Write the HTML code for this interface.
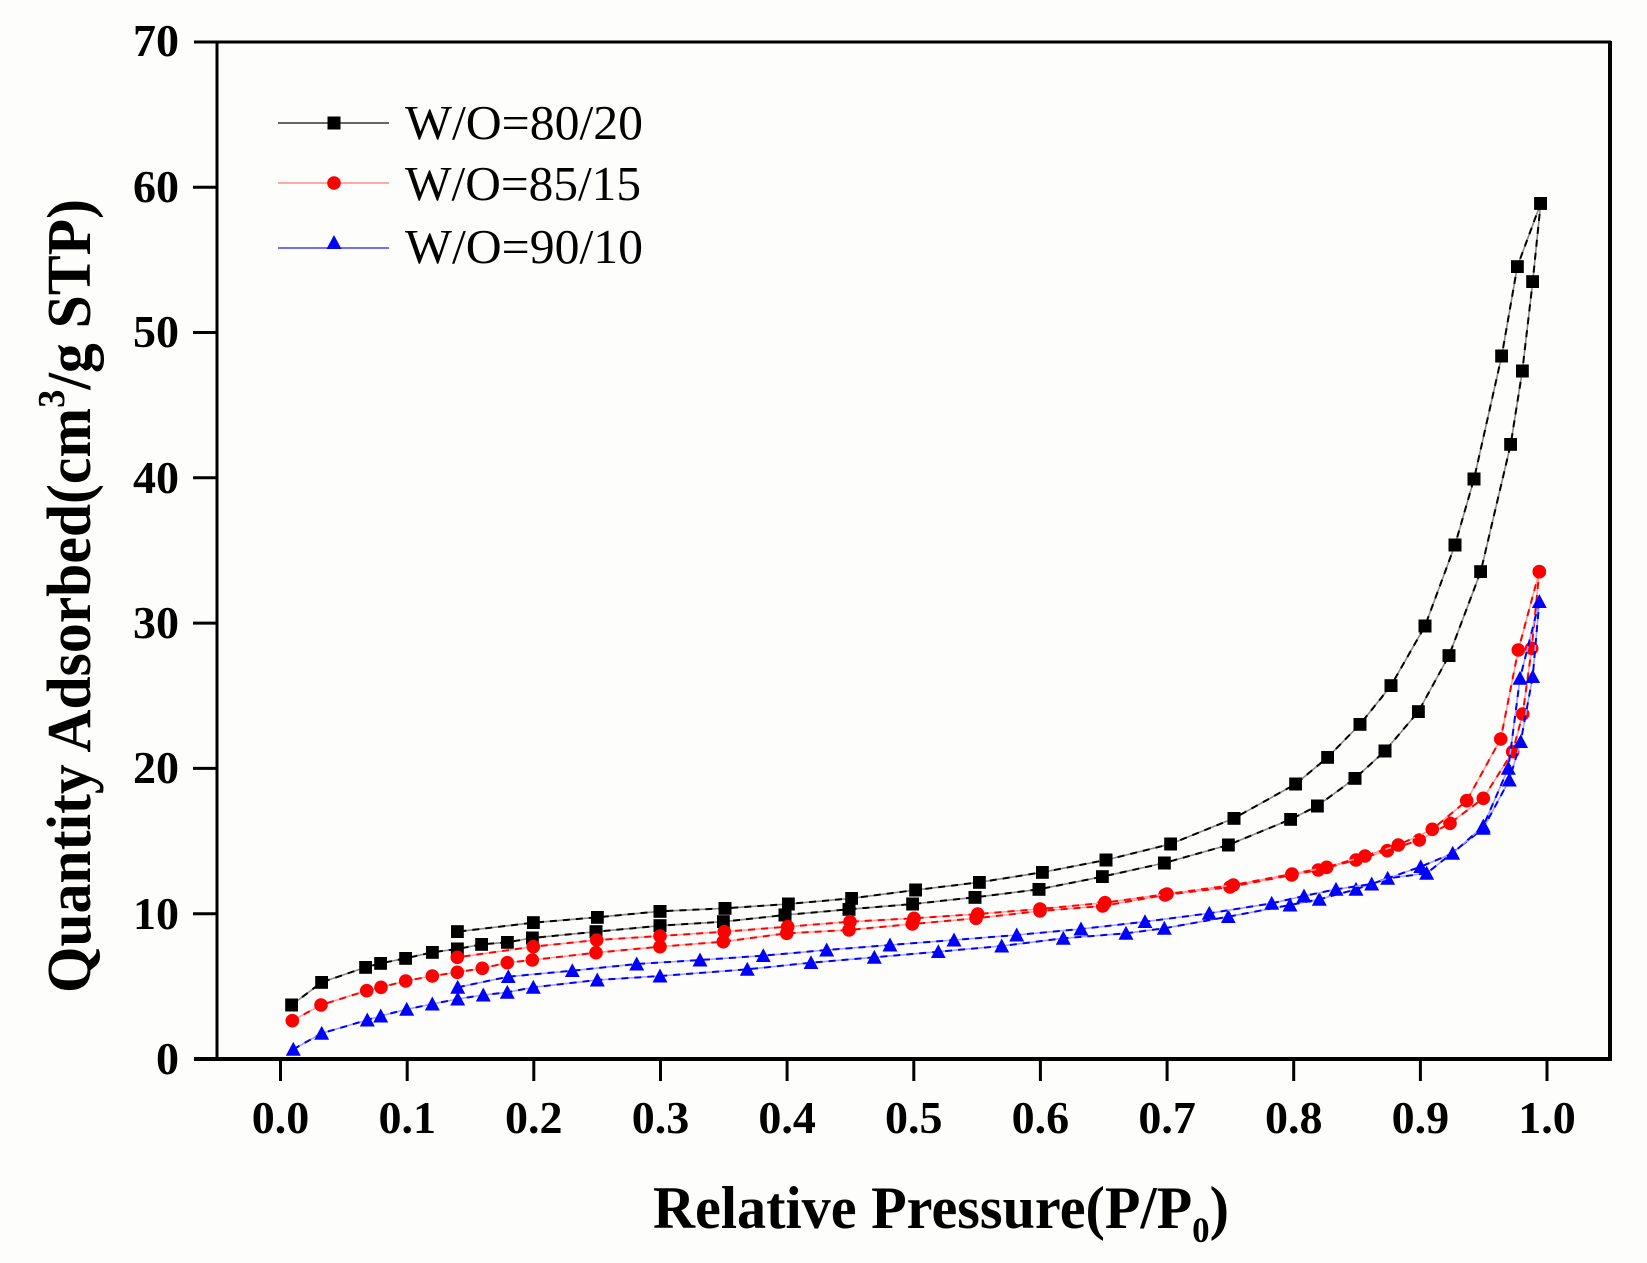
<!DOCTYPE html>
<html><head><meta charset="utf-8"><style>
html,body{margin:0;padding:0;background:#fdfdfc;}
svg{display:block;}
text{font-family:"Liberation Serif","Times New Roman",serif;fill:#000;}
</style></head><body>
<svg width="1647" height="1263" viewBox="0 0 1647 1263" xmlns="http://www.w3.org/2000/svg">
<defs>
<marker id="sq" viewBox="0 0 13 13" refX="6.5" refY="6.5" markerWidth="13" markerHeight="13" markerUnits="userSpaceOnUse"><rect x="0" y="0" width="13" height="13" fill="#000"/></marker>
<marker id="ci" viewBox="0 0 14 14" refX="7" refY="7" markerWidth="14" markerHeight="14" markerUnits="userSpaceOnUse"><circle cx="7" cy="7" r="6.8" fill="#ff0000"/></marker>
<marker id="tr" viewBox="0 0 15 14" refX="7.5" refY="7.5" markerWidth="15" markerHeight="14" markerUnits="userSpaceOnUse"><polygon points="7.5,0 15,14 0,14" fill="#0000ff"/></marker>
</defs>
<rect width="1647" height="1263" fill="#fdfdfc"/>

<!-- Black 80/20 -->
<g fill="none">
<polyline stroke="#8a8a8a" stroke-width="1.6" points="291.7,1005 321.7,982.3 365.7,967.3 380.7,963.3 405.7,958.3 432.3,952.3 457.3,949 481.7,944.3 507.3,942.3 532.3,938 596,931.7 660,925.7 723.3,921.7 785,915 849,909.3 912.7,904 975,897.3 1039,889.3 1102.3,876.7 1164.3,863 1228.3,845 1290.7,819.3 1317.3,806 1355,778.3 1385,751 1418.3,711.7 1449,655.7 1480.7,571.7 1510.7,444.3 1522.3,371 1532.7,281.7 1540.7,203.3"/>
<polyline stroke="#000" stroke-width="2" stroke-dasharray="7 6" marker-start="url(#sq)" marker-mid="url(#sq)" marker-end="url(#sq)" points="291.7,1005 321.7,982.3 365.7,967.3 380.7,963.3 405.7,958.3 432.3,952.3 457.3,949 481.7,944.3 507.3,942.3 532.3,938 596,931.7 660,925.7 723.3,921.7 785,915 849,909.3 912.7,904 975,897.3 1039,889.3 1102.3,876.7 1164.3,863 1228.3,845 1290.7,819.3 1317.3,806 1355,778.3 1385,751 1418.3,711.7 1449,655.7 1480.7,571.7 1510.7,444.3 1522.3,371 1532.7,281.7 1540.7,203.3"/>
<polyline stroke="#8a8a8a" stroke-width="1.6" points="1540.7,203.3 1517.3,266.7 1501.7,356 1474,479 1455,545 1425,626 1391,685.7 1360,724.3 1327.7,757.3 1295.7,784 1234,818.3 1170.7,844 1106,860 1042.3,872.3 979.3,882.3 915.7,890 851.7,898.3 788.3,904 725,908.3 660,911.3 597.3,917.3 533.3,922.7 457.3,931.7"/>
<polyline stroke="#000" stroke-width="2" stroke-dasharray="7 6" marker-start="url(#sq)" marker-mid="url(#sq)" marker-end="url(#sq)" points="1540.7,203.3 1517.3,266.7 1501.7,356 1474,479 1455,545 1425,626 1391,685.7 1360,724.3 1327.7,757.3 1295.7,784 1234,818.3 1170.7,844 1106,860 1042.3,872.3 979.3,882.3 915.7,890 851.7,898.3 788.3,904 725,908.3 660,911.3 597.3,917.3 533.3,922.7 457.3,931.7"/>
</g>

<!-- Red 85/15 -->
<g fill="none">
<polyline stroke="#ffa0a0" stroke-width="1.6" points="292.3,1020.7 321,1005 366.7,990.7 381,987.3 405.7,981 432.3,976 457.3,972.3 482.3,968.3 507.3,962.7 532.3,960 596,952.7 660,946.7 723.3,941.7 786.7,933.3 849,930 912.3,924 976,918.3 1040,911 1102.7,906 1165,895 1230,887 1291.7,875 1318.3,870 1356,860 1387.3,850.7 1419.3,840 1450,823.3 1483.3,798.3 1512.7,751.7 1522.7,714 1531.7,648.3 1539.3,571.7"/>
<polyline stroke="#ff0000" stroke-width="2" stroke-dasharray="7 6" marker-start="url(#ci)" marker-mid="url(#ci)" marker-end="url(#ci)" points="292.3,1020.7 321,1005 366.7,990.7 381,987.3 405.7,981 432.3,976 457.3,972.3 482.3,968.3 507.3,962.7 532.3,960 596,952.7 660,946.7 723.3,941.7 786.7,933.3 849,930 912.3,924 976,918.3 1040,911 1102.7,906 1165,895 1230,887 1291.7,875 1318.3,870 1356,860 1387.3,850.7 1419.3,840 1450,823.3 1483.3,798.3 1512.7,751.7 1522.7,714 1531.7,648.3 1539.3,571.7"/>
<polyline stroke="#ffa0a0" stroke-width="1.6" points="1539.3,571.7 1518.3,650 1500.7,739 1466.7,800.7 1432.3,829.3 1398.3,845 1365,856 1326.7,867.3 1292,874 1233.3,885 1167,894 1105,902.7 1040,909 977.7,914 914,918.3 850,921.7 787.7,926.7 724.3,931.7 660,936 596.7,940 533.3,946.7 457.3,957.3"/>
<polyline stroke="#ff0000" stroke-width="2" stroke-dasharray="7 6" marker-start="url(#ci)" marker-mid="url(#ci)" marker-end="url(#ci)" points="1539.3,571.7 1518.3,650 1500.7,739 1466.7,800.7 1432.3,829.3 1398.3,845 1365,856 1326.7,867.3 1292,874 1233.3,885 1167,894 1105,902.7 1040,909 977.7,914 914,918.3 850,921.7 787.7,926.7 724.3,931.7 660,936 596.7,940 533.3,946.7 457.3,957.3"/>
</g>

<!-- Blue 90/10 -->
<g fill="none">
<polyline stroke="#a0a0ff" stroke-width="1.6" points="293.3,1049.3 321.7,1033.3 367.3,1020 380.7,1016 406.7,1009.3 432.3,1004 457.7,999 483.3,995 507.3,992.3 533.3,987.3 597.3,980 660,976 747.3,969.3 811,962.7 874.3,957.3 938.3,951.7 1001.7,946 1063.3,938.3 1126,933.3 1164.3,928.3 1228.3,916.7 1290,905 1319.3,899.3 1356,889.3 1387.7,878.3 1426.7,873.3 1483.3,828.3 1509.3,780 1520.7,741.7 1532.7,676.7 1539.3,601.7"/>
<polyline stroke="#0000ff" stroke-width="2" stroke-dasharray="7 6" marker-start="url(#tr)" marker-mid="url(#tr)" marker-end="url(#tr)" points="293.3,1049.3 321.7,1033.3 367.3,1020 380.7,1016 406.7,1009.3 432.3,1004 457.7,999 483.3,995 507.3,992.3 533.3,987.3 597.3,980 660,976 747.3,969.3 811,962.7 874.3,957.3 938.3,951.7 1001.7,946 1063.3,938.3 1126,933.3 1164.3,928.3 1228.3,916.7 1290,905 1319.3,899.3 1356,889.3 1387.7,878.3 1426.7,873.3 1483.3,828.3 1509.3,780 1520.7,741.7 1532.7,676.7 1539.3,601.7"/>
<polyline stroke="#a0a0ff" stroke-width="1.6" points="1539.3,601.7 1520,678.3 1508.3,768.3 1483.3,826 1452.7,853.3 1420.7,866.7 1371.7,884 1336,889.3 1304,896 1271.7,903.3 1209.3,913.3 1145,921.7 1081,929 1016.7,935 954,940 890,945 826.7,950 763.3,955.7 700,960 636.7,964 572.3,970.7 508.3,976.7 457.7,987.3"/>
<polyline stroke="#0000ff" stroke-width="2" stroke-dasharray="7 6" marker-start="url(#tr)" marker-mid="url(#tr)" marker-end="url(#tr)" points="1539.3,601.7 1520,678.3 1508.3,768.3 1483.3,826 1452.7,853.3 1420.7,866.7 1371.7,884 1336,889.3 1304,896 1271.7,903.3 1209.3,913.3 1145,921.7 1081,929 1016.7,935 954,940 890,945 826.7,950 763.3,955.7 700,960 636.7,964 572.3,970.7 508.3,976.7 457.7,987.3"/>
</g>

<!-- Axes -->
<g stroke="#000" fill="none">
<line x1="217" y1="42" x2="217" y2="1059" stroke-width="3"/>
<line x1="194" y1="42" x2="1611" y2="42" stroke-width="3"/>
<line x1="1610" y1="41" x2="1610" y2="1060" stroke-width="4"/>
<line x1="194" y1="1059" x2="1612" y2="1059" stroke-width="4"/>
<g stroke-width="3">
<line x1="193" y1="913.7" x2="217" y2="913.7"/>
<line x1="193" y1="768.4" x2="217" y2="768.4"/>
<line x1="193" y1="623.1" x2="217" y2="623.1"/>
<line x1="193" y1="477.8" x2="217" y2="477.8"/>
<line x1="193" y1="332.5" x2="217" y2="332.5"/>
<line x1="193" y1="187.2" x2="217" y2="187.2"/>
<line x1="280.5" y1="1059" x2="280.5" y2="1081"/>
<line x1="407.2" y1="1059" x2="407.2" y2="1081"/>
<line x1="533.8" y1="1059" x2="533.8" y2="1081"/>
<line x1="660.5" y1="1059" x2="660.5" y2="1081"/>
<line x1="787.1" y1="1059" x2="787.1" y2="1081"/>
<line x1="913.8" y1="1059" x2="913.8" y2="1081"/>
<line x1="1040.4" y1="1059" x2="1040.4" y2="1081"/>
<line x1="1167.1" y1="1059" x2="1167.1" y2="1081"/>
<line x1="1293.7" y1="1059" x2="1293.7" y2="1081"/>
<line x1="1420.4" y1="1059" x2="1420.4" y2="1081"/>
<line x1="1547" y1="1059" x2="1547" y2="1081"/>
</g>
</g>

<!-- Y tick labels -->
<g font-size="46" font-weight="bold" text-anchor="end">
<text x="179" y="1074">0</text>
<text x="179" y="929">10</text>
<text x="179" y="783">20</text>
<text x="179" y="638">30</text>
<text x="179" y="493">40</text>
<text x="179" y="347">50</text>
<text x="179" y="202">60</text>
<text x="179" y="56">70</text>
</g>

<!-- X tick labels -->
<g font-size="46" font-weight="bold" text-anchor="middle">
<text x="280.5" y="1133">0.0</text>
<text x="407.2" y="1133">0.1</text>
<text x="533.8" y="1133">0.2</text>
<text x="660.5" y="1133">0.3</text>
<text x="787.1" y="1133">0.4</text>
<text x="913.8" y="1133">0.5</text>
<text x="1040.4" y="1133">0.6</text>
<text x="1167.1" y="1133">0.7</text>
<text x="1293.7" y="1133">0.8</text>
<text x="1420.4" y="1133">0.9</text>
<text x="1547" y="1133">1.0</text>
</g>

<!-- Axis titles -->
<text x="653" y="1228" font-size="60" font-weight="bold" textLength="576" lengthAdjust="spacingAndGlyphs">Relative Pressure(P/P<tspan font-size="36" dy="14">0</tspan><tspan dy="-14">)</tspan></text>
<text transform="translate(90,993) rotate(-90)" font-size="62" font-weight="bold" textLength="794" lengthAdjust="spacingAndGlyphs">Quantity Adsorbed(cm<tspan font-size="38" dy="-26">3</tspan><tspan dy="26">/g STP)</tspan></text>

<!-- Legend -->
<line x1="278" y1="123" x2="389" y2="123" stroke="#666" stroke-width="2"/>
<rect x="327.5" y="116.5" width="13" height="13" fill="#000"/>
<line x1="278" y1="183" x2="389" y2="183" stroke="#ffa8a8" stroke-width="2"/>
<circle cx="334" cy="183" r="6.8" fill="#ff0000"/>
<line x1="278" y1="248" x2="389" y2="248" stroke="#7070ff" stroke-width="2"/>
<polygon points="334,235 341.5,249 326.5,249" fill="#0000ff"/>
<g font-size="49">
<text x="405" y="139" textLength="238" lengthAdjust="spacingAndGlyphs">W/O=80/20</text>
<text x="405" y="200" textLength="236" lengthAdjust="spacingAndGlyphs">W/O=85/15</text>
<text x="405" y="263" textLength="238" lengthAdjust="spacingAndGlyphs">W/O=90/10</text>
</g>
</svg>
</body></html>
